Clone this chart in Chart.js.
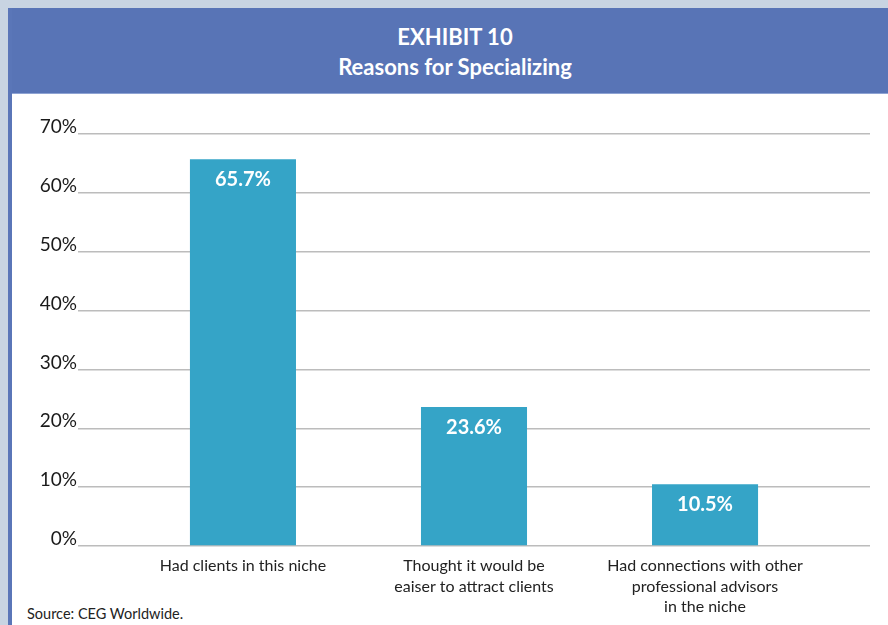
<!DOCTYPE html>
<html>
<head>
<meta charset="utf-8">
<script src="https://cdn.jsdelivr.net/npm/chart.js@4"></script>
<style>
  html, body { margin: 0; padding: 0; }
  body {
    width: 888px; height: 625px; overflow: hidden; position: relative;
    background: #c8d4e2; font-family: Lato, "Open Sans", sans-serif;
  }
  .frame {
    position: absolute; left: 8px; top: 8px; right: -10px; bottom: -10px;
    background: #fff; border-left: 4px solid #5a76b8;
  }
  .header {
    height: 86px; background: #5874b6; border-bottom: 1px solid #8ea3d3;
    color: #fff; text-align: center; font-weight: bold; font-size: 22px;
    line-height: 30px; padding-top: 14px; box-sizing: border-box;
  }
  .source {
    position: absolute; left: 27px; top: 605px; font-size: 14.5px; color: #222;
  }
  #chart { position: absolute; left: 0; top: 0; }
</style>
</head>
<body>
<div class="frame">
  <div class="header">EXHIBIT 10<br>Reasons for Specializing</div>
</div>
<div class="source">Source: CEG Worldwide.</div>
<canvas id="chart" width="888" height="625"></canvas>
<script>
// Survey results
const categories = [
  ['Had clients in this niche'],
  ['Thought it would be', 'eaiser to attract clients'],
  ['Had connections with other', 'professional advisors', 'in the niche']
];
const shares = [65.7, 23.6, 10.5];
const yTicks = [0, 10, 20, 30, 40, 50, 60, 70];

const BAR_COLOR = '#35a4c7';
const GRID_COLOR = '#bcbcbc';

// White value labels just inside the top of each bar
const valueLabels = {
  id: 'valueLabels',
  afterDatasetsDraw(chart) {
    const { ctx } = chart;
    const meta = chart.getDatasetMeta(0);
    ctx.save();
    ctx.fillStyle = '#fff';
    ctx.font = 'bold 20px Lato, sans-serif';
    ctx.textAlign = 'center';
    ctx.textBaseline = 'middle';
    meta.data.forEach((bar, i) => {
      ctx.fillText(shares[i].toFixed(1) + '%', bar.x, bar.y + 20);
    });
    ctx.restore();
  }
};

new Chart(document.getElementById('chart'), {
  type: 'bar',
  data: {
    datasets: [{
      data: shares.map((v, i) => ({ x: i, y: v })),
      backgroundColor: BAR_COLOR,
      barPercentage: 0.459,
      categoryPercentage: 1
    }]
  },
  options: {
    responsive: false,
    animation: false,
    layout: { padding: { left: 0, right: 18, top: 134, bottom: 0 } },
    plugins: { legend: { display: false }, tooltip: { enabled: false } },
    scales: {
      x: {
        type: 'linear',
        offset: false,
        min: -0.714,
        max: 2.714,
        afterBuildTicks: (scale) => { scale.ticks = categories.map((_, i) => ({ value: i })); },
        afterFit: (scale) => { scale.height = 79; },
        grid: { display: false, drawTicks: false },
        border: { display: false },
        ticks: {
          autoSkip: false,
          maxRotation: 0,
          padding: 10,
          color: '#222',
          font: { family: 'Lato', size: 16, lineHeight: 1.28 },
          callback: (v) => categories[v]
        }
      },
      y: {
        min: 0,
        max: 70,
        afterBuildTicks: (scale) => { scale.ticks = yTicks.map(v => ({ value: v })); },
        afterFit: (scale) => { scale.width = 78; },
        grid: { color: GRID_COLOR, lineWidth: 1.5, drawTicks: false },
        border: { display: false },
        ticks: {
          padding: 1,
          labelOffset: -7,
          color: '#1a1a1a',
          font: { family: 'Lato', size: 19 },
          callback: (v) => v + '%'
        }
      }
    }
  },
  plugins: [valueLabels]
});
</script>
</body>
</html>
